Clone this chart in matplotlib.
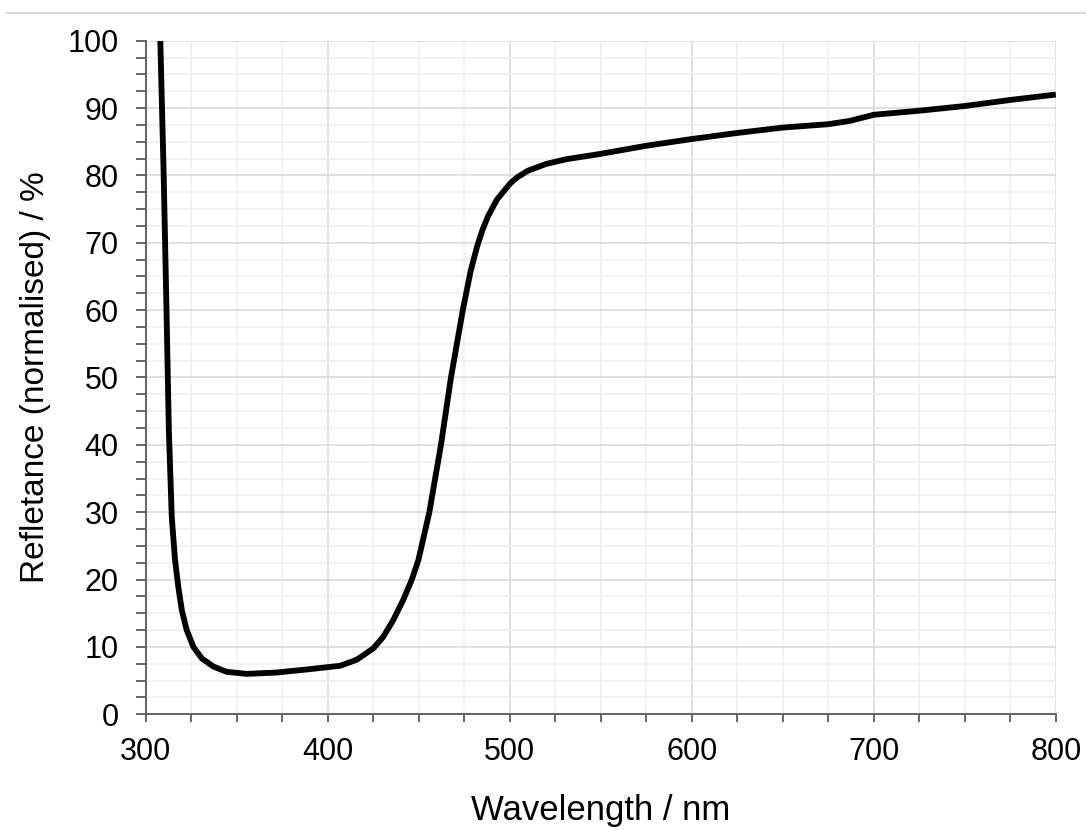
import numpy as np
import matplotlib.pyplot as plt
from matplotlib.lines import Line2D
from matplotlib.ticker import MultipleLocator

# values
wavelength = [308, 309.8, 311.3, 312.7, 314.3, 316.1, 317.9, 319.8, 322.5, 326.2,
              330.8, 337.1, 344.5, 355.5, 372, 390, 400, 406.8, 415.9, 425.1,
              430.5, 436, 441.5, 446.2, 449.8, 455.8, 462.2, 467.7, 474.2, 478.5,
              482, 485, 488, 492.9, 500.2, 504, 510, 520, 531, 550, 575,
              600, 625, 650, 675, 687, 700, 725, 750, 775, 800]
reflectance = [100, 80.7, 61.4, 42.1, 29.3, 22.9, 18.9, 15.5, 12.5, 10.0,
               8.3, 7.1, 6.3, 6.0, 6.2, 6.7, 7.0, 7.2, 8.1, 9.8,
               11.5, 14.0, 17.0, 20.0, 22.9, 30.0, 40.0, 50.0, 60.0, 65.8,
               69.4, 71.9, 73.9, 76.4, 78.8, 79.7, 80.7, 81.7, 82.4, 83.2, 84.4,
               85.4, 86.3, 87.1, 87.6, 88.1, 89.0, 89.6, 90.3, 91.2, 92.0]

plt.rcParams['font.family'] = ['Liberation Sans', 'DejaVu Sans']

fig = plt.figure(figsize=(10.86, 8.30), dpi=100)
ax = fig.add_axes([0.1342, 0.1394, 0.838, 0.8116])

ax.plot(wavelength, reflectance, color='black', lw=4.2,
        solid_joinstyle='round', solid_capstyle='butt')

ax.set_xlim(300, 800)
ax.set_ylim(0, 100)
ax.xaxis.set_major_locator(MultipleLocator(100))
ax.xaxis.set_minor_locator(MultipleLocator(25))
ax.yaxis.set_major_locator(MultipleLocator(10))
ax.yaxis.set_minor_locator(MultipleLocator(2.5))

ax.grid(which='major', color='#d9d9d9', lw=1.1)
ax.grid(which='minor', color='#efefef', lw=1.1)
ax.set_axisbelow(True)

for s in ['top', 'right']:
    ax.spines[s].set_visible(False)
for s in ['left', 'bottom']:
    ax.spines[s].set_color('#595959')
    ax.spines[s].set_linewidth(1.3)

ax.tick_params(which='both', direction='out', color='#595959', width=1.3)
ax.tick_params(axis='x', which='both', length=6)
ax.tick_params(axis='y', which='both', length=7.5)
ax.tick_params(axis='x', which='major', labelsize=22, pad=10, labelcolor='black')
ax.tick_params(axis='y', which='major', labelsize=22, pad=12, labelcolor='black')

ax.set_xlabel('Wavelength / nm', fontsize=25, labelpad=20)
ax.set_ylabel('Refletance (normalised) / %', fontsize=24, labelpad=12)

fig.add_artist(Line2D([7 / 1086, 1], [1 - 13 / 830, 1 - 13 / 830],
                      color='#d9d9d9', lw=1.5, transform=fig.transFigure))

fig.savefig('out.png', dpi=100, facecolor='white')
